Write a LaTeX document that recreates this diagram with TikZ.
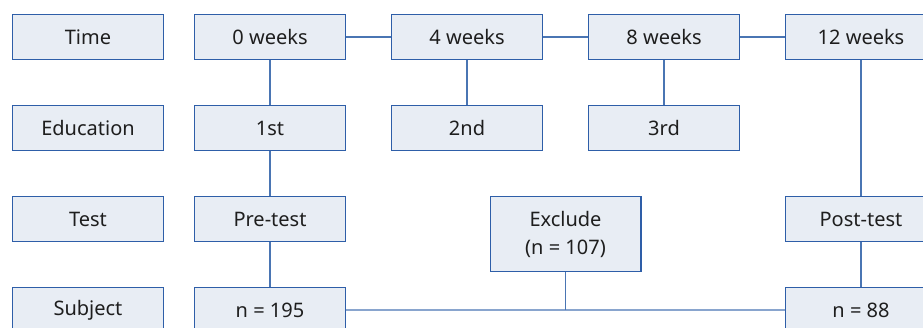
\documentclass[tikz,border=0pt]{standalone}
\usepackage{fontspec}
\setmainfont{Noto Sans}
\usepackage{xcolor}
\usepackage{tikz}
\usetikzlibrary{positioning}

\definecolor{boxfill}{HTML}{E8EDF4}
\definecolor{boxline}{HTML}{2E5EA8}
\definecolor{linkline}{HTML}{4A75B3}
\definecolor{boxtext}{HTML}{1E1E1E}

\begin{document}
\begin{tikzpicture}[
    x=1pt, y=1pt,
    node distance=45pt and 45pt,
    box/.style={rectangle, draw=boxline, fill=boxfill, line width=1.2pt,
                minimum width=150.8pt, minimum height=44.8pt, inner sep=0pt,
                align=center, text=boxtext,
                font=\fontsize{20}{28}\selectfont},
    link/.style={draw=linkline, line width=1.4pt}
]
\useasboundingbox[clip] (0,0) rectangle (923,327);

\node[box] at (88,290) (time) {Time};
\node[box, below=of time] (edu)  {Education};
\node[box, below=of edu]  (test) {Test};
\node[box, below=of test] (subj) {Subject};

\node[box, right=30pt of time] (w0)  {0 weeks};
\node[box, right=of w0]        (w4)  {4 weeks};
\node[box, right=of w4]        (w8)  {8 weeks};
\node[box, right=of w8]        (w12) {12 weeks};

\node[box, below=of w0] (first)  {1st};
\node[box, below=of w4] (second) {2nd};
\node[box, below=of w8] (third)  {3rd};

\node[box, below=of first] (pre)  {Pre-test};
\node[box, below=of w12, yshift=-91pt] (post) {Post-test};
\node[box, below=of pre]  (n195) {n = 195};
\node[box, below=of post] (n88)  {n = 88};

\node[box, minimum height=74.8pt, anchor=north, xshift=22.5pt]
    at (w4.east |- pre.north) (excl) {Exclude\\(n = 107)};

\draw[link] (w0) -- (w4);
\draw[link] (w4) -- (w8);
\draw[link] (w8) -- (w12);

\draw[link] (w0)    -- (first);
\draw[link] (first) -- (pre);
\draw[link] (pre)   -- (n195);
\draw[link] (w4)    -- (second);
\draw[link] (w8)    -- (third);
\draw[link] (w12)   -- (post);
\draw[link] (post)  -- (n88);

\draw[link] (n195) -- (n88);
\draw[link] (excl) -- (excl |- n195);

\end{tikzpicture}
\end{document}
